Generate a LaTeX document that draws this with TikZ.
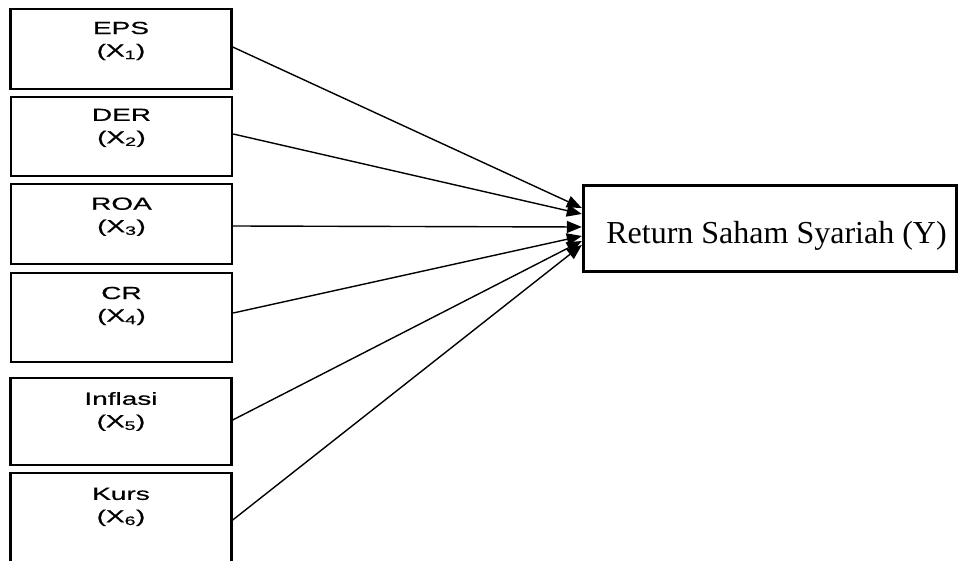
\documentclass[tikz,border=0pt]{standalone}
\usepackage{fontspec}
\setmainfont{Liberation Serif}
\newfontfamily\arialw[FakeStretch=1.6,FakeBold=0.6]{Liberation Sans}
\usetikzlibrary{arrows.meta}
\begin{document}
\begin{tikzpicture}[x=1pt,y=-1pt,
  varbox/.style={draw,line width=2.4pt,minimum width=221pt,inner sep=0pt},
  vartext/.style={anchor=north,align=center,font=\arialw\fontsize{17.5}{22.5}\selectfont,inner sep=0pt,outer sep=0pt},
  ybox/.style={draw,line width=3.4pt,minimum width=373pt,minimum height=86pt,inner sep=0pt},
  ytext/.style={inner sep=0pt,anchor=base,font=\fontsize{32}{36}\selectfont},
  conn/.style={line width=1.4pt,-{Triangle[length=15pt,width=12pt]}}]
\useasboundingbox (0,0) rectangle (958,561);
\clip (0,0) rectangle (958,561);
\node[varbox,minimum height=80pt] (x1) at (121,49) {};
\node[varbox,minimum height=79pt] (x2) at (121.5,136.5) {};
\node[varbox,minimum height=80pt] (x3) at (121.5,224) {};
\node[varbox,minimum height=89pt] (x4) at (121.5,317.5) {};
\node[varbox,minimum height=87pt] (x5) at (121,421.5) {};
\node[varbox,minimum height=110pt] (x6) at (121,528) {};
\node[vartext] (t1) at ([yshift=-14pt]x1.north) {EPS\\(X\textsubscript{1})};
\node[vartext] (t2) at ([yshift=-13pt]x2.north) {DER\\(X\textsubscript{2})};
\node[vartext] (t3) at ([yshift=-14.7pt]x3.north) {ROA\\(X\textsubscript{3})};
\node[vartext] (t4) at ([yshift=-15pt]x4.north) {CR\\(X\textsubscript{4})};
\node[vartext] (t5) at ([yshift=-15.3pt]x5.north) {Inflasi\\(X\textsubscript{5})};
\node[vartext] (t6) at ([yshift=-16pt]x6.north) {Kurs\\(X\textsubscript{6})};
\node[ybox] (y) at (770,228.5) {};
\node[ytext] (yt) at (776.5,243.3) {Return Saham Syariah (Y)};
\draw[conn] ([yshift=2pt]x1.east) -- ([yshift=20.5pt]y.west);
\draw[conn] ([yshift=2.5pt]x2.east) -- ([yshift=14.5pt]y.west);
\draw[conn] ([yshift=-2pt]x3.east) -- ([yshift=1.5pt]y.west);
\draw[conn] ([yshift=4.5pt]x4.east) -- ([yshift=-7.5pt]y.west);
\draw[conn] ([yshift=1.5pt]x5.east) -- ([yshift=-12.5pt]y.west);
\draw[conn] ([yshift=8pt]x6.east) -- ([yshift=-16.5pt]y.west);
\end{tikzpicture}
\end{document}
